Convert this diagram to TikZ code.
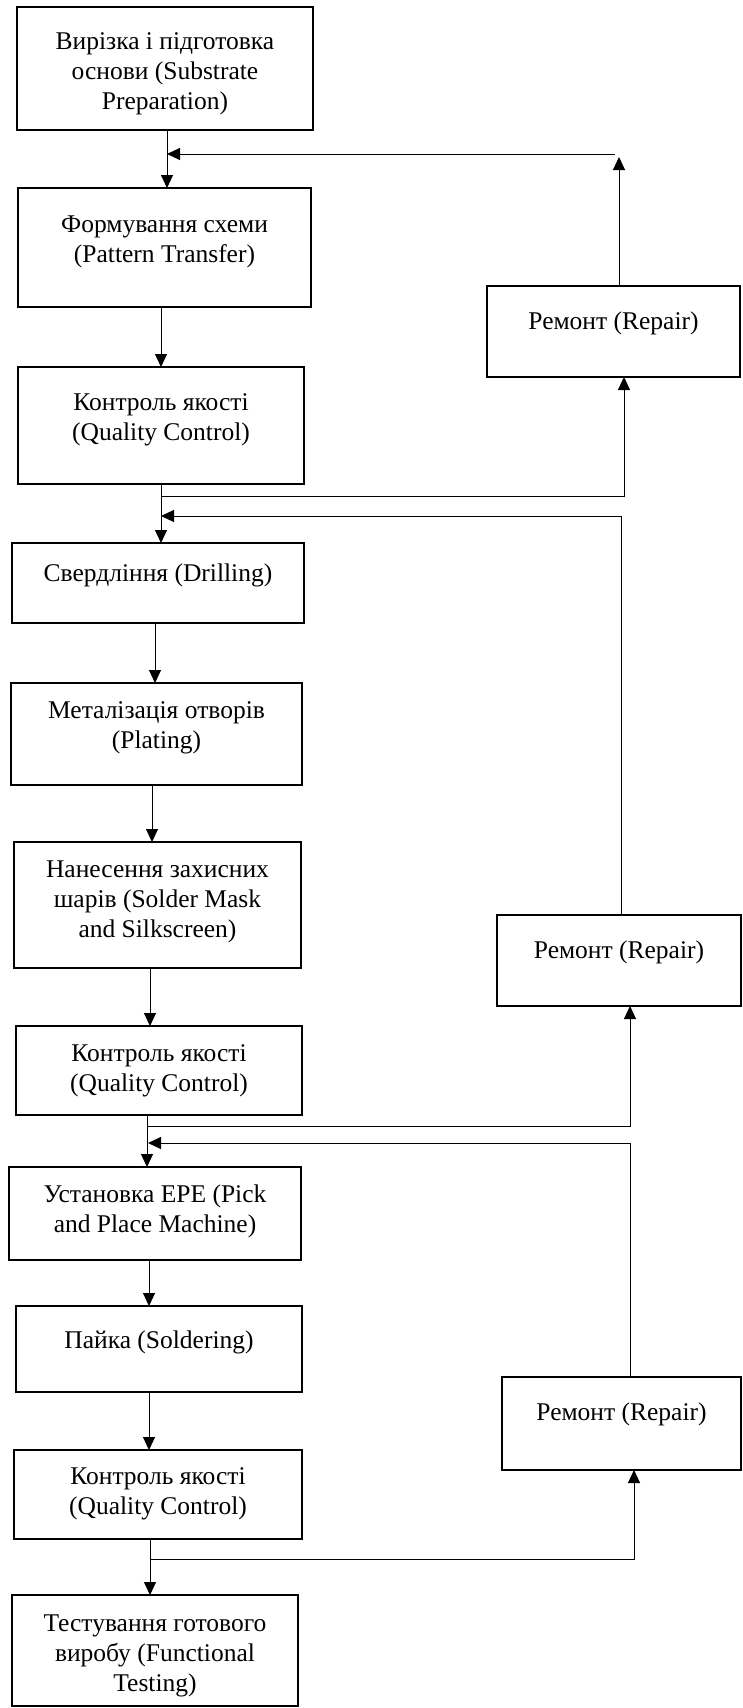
\documentclass[tikz,border=0pt]{standalone}
\usepackage{fontspec}
\setmainfont{Liberation Serif}
\usetikzlibrary{arrows.meta}

\tikzset{
  stage/.style={draw, line width=2pt, rectangle, inner sep=0pt, outer sep=0pt},
  caption/.style={align=center, inner sep=0pt, anchor=north,
    font=\fontsize{25.5pt}{29.6pt}\selectfont},
  flow/.style={line width=1pt, -{Triangle[length=13pt,width=12pt]}},
}

\begin{document}
\begin{tikzpicture}[x=1pt, y=-1pt]
\useasboundingbox (0,0) rectangle (742,1708);

% main process column
\node[stage, minimum width=296pt, minimum height=123pt] (b1)  at (165,68.5)   {};
\node[stage, minimum width=293pt, minimum height=119pt] (b2)  at (164.5,247.5) {};
\node[stage, minimum width=286pt, minimum height=117pt] (b3)  at (161,425.5)  {};
\node[stage, minimum width=292pt, minimum height=80pt]  (b4)  at (158,583)    {};
\node[stage, minimum width=291pt, minimum height=102pt] (b5)  at (156.5,734)  {};
\node[stage, minimum width=287pt, minimum height=126pt] (b6)  at (157.5,905)  {};
\node[stage, minimum width=286pt, minimum height=89pt]  (b7)  at (159,1070.5) {};
\node[stage, minimum width=292pt, minimum height=93pt]  (b8)  at (155,1213.5) {};
\node[stage, minimum width=286pt, minimum height=86pt]  (b9)  at (159,1349)   {};
\node[stage, minimum width=288pt, minimum height=89pt]  (b10) at (158,1494.5) {};
\node[stage, minimum width=286pt, minimum height=111pt] (b11) at (155,1650.5) {};

% repair boxes
\node[stage, minimum width=253pt, minimum height=91pt] (r1) at (613.5,331.5) {};
\node[stage, minimum width=244pt, minimum height=91pt] (r2) at (619,960.5)   {};
\node[stage, minimum width=239pt, minimum height=93pt] (r3) at (621.5,1423.5) {};

% captions
\node[caption] (b1t)  at ([yshift=-22pt]b1.north)  {\strut Вирізка і підготовка\\основи (Substrate\\Preparation)};
\node[caption] (b2t)  at ([yshift=-24pt]b2.north)  {\strut Формування схеми\\(Pattern Transfer)};
\node[caption] (b3t)  at ([yshift=-23pt]b3.north)  {\strut Контроль якості\\(Quality Control)};
\node[caption] (b4t)  at ([yshift=-18pt]b4.north)  {\strut Свердління (Drilling)};
\node[caption] (b5t)  at ([yshift=-15pt]b5.north)  {\strut Металізація отворів\\(Plating)};
\node[caption] (b6t)  at ([yshift=-15pt]b6.north)  {\strut Нанесення захисних\\шарів (Solder Mask\\and Silkscreen)};
\node[caption] (b7t)  at ([yshift=-15pt]b7.north)  {\strut Контроль якості\\(Quality Control)};
\node[caption] (b8t)  at ([yshift=-15pt]b8.north)  {\strut Установка ЕРЕ (Pick\\and Place Machine)};
\node[caption] (b9t)  at ([yshift=-22pt]b9.north)  {\strut Пайка (Soldering)};
\node[caption] (b10t) at ([yshift=-14pt]b10.north) {\strut Контроль якості\\(Quality Control)};
\node[caption] (b11t) at ([yshift=-16pt]b11.north) {\strut Тестування готового\\виробу (Functional\\Testing)};
\node[caption] (r1t)  at ([yshift=-23pt]r1.north)  {\strut Ремонт (Repair)};
\node[caption] (r2t)  at ([yshift=-23pt]r2.north)  {\strut Ремонт (Repair)};
\node[caption] (r3t)  at ([yshift=-23pt]r3.north)  {\strut Ремонт (Repair)};

% connector columns and junctions
\coordinate (c167) at (167,0);
\coordinate (c161) at (161,0);
\coordinate (c155) at (155,0);
\coordinate (c152) at (152,0);
\coordinate (c150) at (150,0);
\coordinate (c149) at (149,0);
\coordinate (c148) at (148,0);
\coordinate (c147) at (147,0);
\coordinate (c624) at (624,0);
\coordinate (c619) at (619,0);
\coordinate (c630) at (630,0);
\coordinate (c634) at (634,0);
\coordinate (t1) at (619,157);
\coordinate (h1) at (615,154);
\coordinate (j1) at (161,496);
\coordinate (k2) at (621,516);
\coordinate (j2) at (147,1126);
\coordinate (k3) at (630,1143);
\coordinate (j3) at (150,1559);

% forward flow
\draw[flow] (b1.south -| c167) -- (b2.north -| c167);
\draw[flow] (b2.south -| c161) -- (b3.north -| c161);
\draw[flow] (b3.south -| c161) -- (b4.north -| c161);
\draw[flow] (b4.south -| c155) -- (b5.north -| c155);
\draw[flow] (b5.south -| c152) -- (b6.north -| c152);
\draw[flow] (b6.south -| c150) -- (b7.north -| c150);
\draw[flow] (b7.south -| c147) -- (b8.north -| c147);
\draw[flow] (b8.south -| c149) -- (b9.north -| c149);
\draw[flow] (b9.south -| c149) -- (b10.north -| c149);
\draw[flow] (b10.south -| c150) -- (b11.north -| c150);

% rejects to repair
\draw[flow] (j1) -| (r1.south -| c624);
\draw[flow] (j2) -| (r2.south -| c630);
\draw[flow] (j3) -| (r3.south -| c634);

% repaired boards back into the line
\draw[flow] (r1.north -| c619) -- (t1);
\draw[flow] (h1) -- (h1 -| c167);
\draw[flow] (r2.north -| k2) -- (k2) -- (k2 -| c161);
\draw[flow] (r3.north -| k3) -- (k3) -- (k3 -| c148);
\end{tikzpicture}
\end{document}
